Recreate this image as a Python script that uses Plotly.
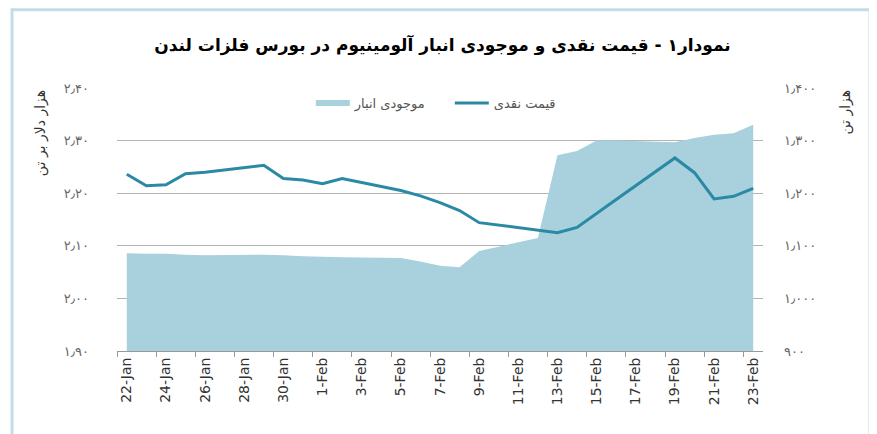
import plotly.graph_objects as go

# LME aluminium: cash price (thousand $/t) and warehouse stocks (thousand t)
dates = ['2018-01-22', '2018-01-23', '2018-01-24', '2018-01-25', '2018-01-26',
         '2018-01-29', '2018-01-30', '2018-01-31', '2018-02-01', '2018-02-02',
         '2018-02-05', '2018-02-06', '2018-02-07', '2018-02-08', '2018-02-09',
         '2018-02-12', '2018-02-13', '2018-02-14', '2018-02-15', '2018-02-16',
         '2018-02-19', '2018-02-20', '2018-02-21', '2018-02-22', '2018-02-23']
cash_price = [2.236, 2.214, 2.216, 2.237, 2.240,
              2.253, 2.228, 2.225, 2.218, 2.228,
              2.205, 2.195, 2.182, 2.167, 2.144,
              2.130, 2.125, 2.135, 2.161, 2.188,
              2.267, 2.239, 2.189, 2.194, 2.209]
stocks = [1086, 1085, 1085, 1083, 1082,
          1083, 1082, 1080, 1079, 1078,
          1077, 1070, 1062, 1059, 1090,
          1115, 1272, 1280, 1300, 1300,
          1297, 1305, 1311, 1314, 1330]

x_tick_dates = ['2018-01-22', '2018-01-24', '2018-01-26', '2018-01-28', '2018-01-30',
                '2018-02-01', '2018-02-03', '2018-02-05', '2018-02-07', '2018-02-09',
                '2018-02-11', '2018-02-13', '2018-02-15', '2018-02-17', '2018-02-19',
                '2018-02-21', '2018-02-23']
x_tick_text = ['22-Jan', '24-Jan', '26-Jan', '28-Jan', '30-Jan', '1-Feb', '3-Feb',
               '5-Feb', '7-Feb', '9-Feb', '11-Feb', '13-Feb', '15-Feb', '17-Feb',
               '19-Feb', '21-Feb', '23-Feb']
left_vals = [1.90, 2.00, 2.10, 2.20, 2.30, 2.40]
left_text = ['۱٫۹۰', '۲٫۰۰', '۲٫۱۰', '۲٫۲۰', '۲٫۳۰', '۲٫۴۰']
right_vals = [900, 1000, 1100, 1200, 1300, 1400]
right_text = ['۹۰۰', '۱٫۰۰۰', '۱٫۱۰۰', '۱٫۲۰۰', '۱٫۳۰۰', '۱٫۴۰۰']

fa_font = 'DejaVu Sans, Noto Sans, sans-serif'
area_col = '#a8d0dd'
line_col = '#2a89a4'

fig = go.Figure()

# stocks on the base (right-hand) axis so the price line is drawn above it
fig.add_trace(go.Scatter(
    x=dates, y=stocks, yaxis='y', name='موجودی انبار',
    mode='none', fill='tozeroy', fillcolor=area_col,
))
fig.add_trace(go.Scatter(
    x=dates, y=cash_price, yaxis='y2', name='قیمت نقدی',
    mode='lines', line=dict(color=line_col, width=3),
))

# page body has an 8px margin, so the figure is sized/offset to compensate
fig.update_layout(
    width=869, height=426,
    margin=dict(l=109, r=114, t=80, b=83),
    paper_bgcolor='white', plot_bgcolor='white',
    showlegend=True,
    legend=dict(
        orientation='h', x=0.3, xanchor='left', y=1.0, yanchor='top',
        font=dict(family=fa_font, size=13, color='#555'),
        bgcolor='rgba(255,255,255,0)', itemwidth=34,
        entrywidth=90, entrywidthmode='pixels',
    ),
    title=dict(
        text='<b>نمودار۱ - قیمت نقدی و موجودی انبار آلومینیوم در بورس فلزات لندن</b>',
        x=0.5, xanchor='center', y=0.913, yanchor='middle',
        font=dict(family=fa_font, size=17, color='black'),
    ),
    xaxis=dict(
        type='date', automargin=False,
        range=['2018-01-21 12:00', '2018-02-23 12:00'],
        tickmode='array', tickvals=x_tick_dates, ticktext=x_tick_text,
        tickangle=-90, ticks='', showgrid=False,
        tickfont=dict(family='DejaVu Sans, sans-serif', size=14, color='#333'),
        showline=True, linecolor='#999', linewidth=1,
        minor=dict(ticks='outside', ticklen=5, tickcolor='#999',
                   tick0='2018-01-21 12:00', dtick=172800000, showgrid=False),
    ),
    yaxis=dict(
        range=[900, 1400], side='right', automargin=False,
        tickmode='array', tickvals=right_vals, ticktext=right_text,
        showgrid=True, gridcolor='#b3b3b3', gridwidth=1, zeroline=False,
        tickfont=dict(family=fa_font, size=13, color='#666'),
        ticklabelstandoff=20,
    ),
    yaxis2=dict(
        range=[1.90, 2.40], overlaying='y', side='left', automargin=False,
        tickmode='array', tickvals=left_vals, ticktext=left_text,
        showgrid=False, zeroline=False,
        tickfont=dict(family=fa_font, size=13, color='#666'),
        ticklabelstandoff=27,
    ),
)

# axis titles, placed at the top of each side
fig.add_annotation(text='هزار دلار بر تن', xref='paper', yref='paper',
                   x=-0.119, y=1.0, xanchor='center', yanchor='top', textangle=-90,
                   showarrow=False, font=dict(family=fa_font, size=14, color='#333'))
fig.add_annotation(text='هزار تن', xref='paper', yref='paper',
                   x=1.127, y=1.0, xanchor='center', yanchor='top', textangle=-90,
                   showarrow=False, font=dict(family=fa_font, size=14, color='#333'))

# light blue frame around the figure
fig.add_shape(type='rect', xref='paper', yref='paper',
              x0=-0.1625, x1=1.1656, y0=-0.4, y1=1.298,
              line=dict(color='#c3dde6', width=3), layer='below')

fig.write_html("out.html")
